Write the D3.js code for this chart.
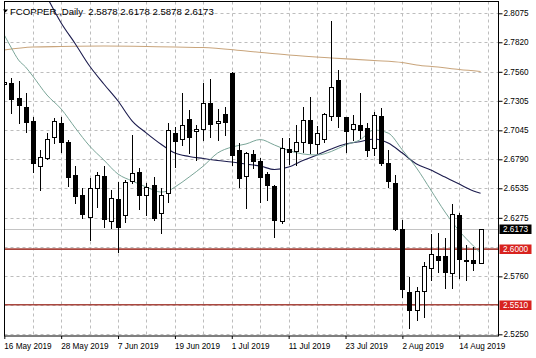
<!DOCTYPE html>
<html>
<head>
<meta charset="utf-8">
<script src="https://cdn.jsdelivr.net/npm/d3@7"></script>
<style>
  body { margin: 0; background: #fff; }
  svg { display: block; font-family: "Liberation Sans", Arial, sans-serif; }
</style>
</head>
<body>
<div id="chart"></div>
<script>
// daily bars, 16 May 2019 .. 19 Aug 2019
var opens  = [2.7453, 2.7459, 2.7327, 2.7253, 2.7127, 2.6731, 2.6804, 2.6984, 2.7112, 2.6945,
              2.6652, 2.6476, 2.6285, 2.6540, 2.6643, 2.6241, 2.6438, 2.6300, 2.6593, 2.6676,
              2.6476, 2.6564, 2.6315, 2.6491, 2.7019, 2.6966, 2.7145, 2.7039, 2.7052, 2.7288,
              2.7112, 2.7189, 2.7547, 2.6872, 2.6637, 2.6837, 2.6775, 2.6658, 2.6558, 2.6241,
              2.6881, 2.6863, 2.6945, 2.7136, 2.6925, 2.6969, 2.7171, 2.7488, 2.7160, 2.7054,
              2.7092, 2.7063, 2.6887, 2.7171, 2.6755, 2.6579, 2.6174, 2.5625, 2.5464, 2.5634,
              2.5837, 2.5939, 2.5939, 2.5787, 2.6300, 2.5904, 2.5904, 2.5878];
var highs  = [2.7523, 2.7503, 2.7482, 2.7371, 2.7165, 2.6872, 2.7024, 2.7156, 2.7160, 2.6960,
              2.6731, 2.6535, 2.6623, 2.6681, 2.6731, 2.6520, 2.6593, 2.6608, 2.7004, 2.6711,
              2.6584, 2.6637, 2.6535, 2.7107, 2.7077, 2.7371, 2.7224, 2.7092, 2.7462, 2.7494,
              2.7233, 2.7253, 2.7558, 2.6936, 2.6857, 2.6872, 2.6799, 2.6681, 2.6564, 2.6975,
              2.6975, 2.7092, 2.7253, 2.7341, 2.7083, 2.7200, 2.8010, 2.7576, 2.7160, 2.7180,
              2.7371, 2.7107, 2.7209, 2.7239, 2.6872, 2.6652, 2.6256, 2.5754, 2.5669, 2.5886,
              2.6132, 2.6139, 2.6097, 2.6397, 2.6315, 2.6036, 2.6021, 2.6178];
var lows   = [2.7356, 2.7195, 2.7107, 2.7033, 2.6681, 2.6520, 2.6793, 2.6936, 2.6857, 2.6555,
              2.6408, 2.6271, 2.6080, 2.6373, 2.6197, 2.6183, 2.5977, 2.6241, 2.6579, 2.6353,
              2.6300, 2.6256, 2.6139, 2.6417, 2.6725, 2.6916, 2.6843, 2.6784, 2.6960, 2.6986,
              2.6960, 2.7004, 2.6740, 2.6546, 2.6359, 2.6713, 2.6417, 2.6432, 2.6109, 2.6227,
              2.6748, 2.6740, 2.6854, 2.6843, 2.6843, 2.6945, 2.7136, 2.7077, 2.6857, 2.6960,
              2.6975, 2.6819, 2.6828, 2.6740, 2.6549, 2.6168, 2.5578, 2.5303, 2.5375, 2.5405,
              2.5727, 2.5801, 2.5655, 2.5655, 2.5745, 2.5728, 2.5820, 2.5878];
var closes = [2.7470, 2.7318, 2.7268, 2.7121, 2.6755, 2.6813, 2.6969, 2.7127, 2.6945, 2.6637,
              2.6467, 2.6309, 2.6540, 2.6652, 2.6262, 2.6447, 2.6192, 2.6593, 2.6667, 2.6470,
              2.6549, 2.6276, 2.6476, 2.7048, 2.6945, 2.7092, 2.6984, 2.7057, 2.7283, 2.7107,
              2.7130, 2.7121, 2.6828, 2.6623, 2.6843, 2.6778, 2.6637, 2.6558, 2.6256, 2.6887,
              2.6857, 2.6945, 2.7136, 2.6931, 2.7019, 2.7189, 2.7422, 2.7169, 2.7033, 2.7098,
              2.7048, 2.6872, 2.7180, 2.6755, 2.6593, 2.6174, 2.5648, 2.5464, 2.5634, 2.5855,
              2.5956, 2.5900, 2.5802, 2.6309, 2.5910, 2.5898, 2.5880, 2.6173];

// moving averages (bar index -> value)
var fastIdx = [0, 1, 2, 3, 4, 6, 8, 10, 12, 14, 16, 18, 20, 22, 23, 24, 26, 28, 30, 32, 34, 36, 38,
               40, 42, 44, 46, 48, 50, 52, 54, 56, 58, 60, 62, 64, 66, 67];
var fastVal = [2.7884, 2.7770, 2.7664, 2.7602, 2.7523, 2.7356, 2.7233, 2.7065, 2.6907, 2.6784,
               2.6660, 2.6599, 2.6546, 2.6502, 2.6511, 2.6546, 2.6634, 2.6731, 2.6845, 2.6898,
               2.6925, 2.6964, 2.6916, 2.6867, 2.6837, 2.6828, 2.6859, 2.6916, 2.6960, 2.7048,
               2.7021, 2.6872, 2.6713, 2.6520, 2.6326, 2.6159, 2.6027, 2.5965];
var midIdx = [6, 8, 10, 12, 14, 16, 18, 20, 22, 24, 26, 28, 30, 32, 34, 36, 38, 40, 42, 44, 46,
              48, 50, 52, 54, 56, 58, 60, 62, 64, 66, 67];
var midVal = [2.8219, 2.7990, 2.7805, 2.7611, 2.7453, 2.7303, 2.7127, 2.7021, 2.6925, 2.6845,
              2.6815, 2.6797, 2.6779, 2.6766, 2.6748, 2.6731, 2.6700, 2.6722, 2.6779, 2.6828,
              2.6881, 2.6925, 2.6945, 2.6969, 2.6933, 2.6845, 2.6748, 2.6696, 2.6634, 2.6572,
              2.6511, 2.6491];
var slowIdx = [0, 4, 8, 14, 20, 24, 28, 34, 40, 46, 52, 56, 58, 61, 64, 67];
var slowVal = [2.7752, 2.7778, 2.7783, 2.7787, 2.7783, 2.7778, 2.7774, 2.7743, 2.7708, 2.7682,
               2.7660, 2.7642, 2.7620, 2.7602, 2.7580, 2.7563];

// grid levels; 2.6020 and 2.5505 sit under the level boxes, so no label there
var priceGrid = [2.8075, 2.7820, 2.7560, 2.7305, 2.7045, 2.6790, 2.6535, 2.6275, 2.6020,
                 2.5760, 2.5505, 2.5250];
var priceLabels = [2.8075, 2.7820, 2.7560, 2.7305, 2.7045, 2.6790, 2.6535, 2.6275,
                   2.5760, 2.5250];
var dateTickIdx = [0, 8, 16, 24, 32, 40, 48, 56, 64];
var dateLabels = ["16 May 2019", "28 May 2019", "7 Jun 2019", "19 Jun 2019", "1 Jul 2019",
                  "11 Jul 2019", "23 Jul 2019", "2 Aug 2019", "14 Aug 2019"];
var levelLines = [2.6000, 2.5510];
var lastPrice = 2.6173;
var title = "FCOPPER.,Daily  2.5878 2.6178 2.5878 2.6173";

var svgWidth = 536;
var svgHeight = 358;
var plot = { left: 4.5, top: 1.5, right: 498.5, bottom: 336 };

var svg = d3.select("#chart")
  .append("svg")
  .attr("width", svgWidth)
  .attr("height", svgHeight);

var x = d3.scaleLinear().domain([0, 69.45]).range([4.3, 498]);
var y = d3.scaleLinear().domain([2.5250, 2.8075]).range([334.3, 13.3]);

svg.append("clipPath").attr("id", "clip")
  .append("rect")
  .attr("x", plot.left).attr("y", plot.top)
  .attr("width", plot.right - plot.left).attr("height", plot.bottom - plot.top);

// grid
var grid = svg.append("g").attr("clip-path", "url(#clip)")
  .attr("stroke", "#bdbdbd").attr("stroke-dasharray", "3,3");
grid.selectAll(".hg").data(priceGrid).enter().append("line")
  .attr("x1", plot.left).attr("x2", plot.right)
  .attr("y1", d => Math.round(y(d)) + 0.5).attr("y2", d => Math.round(y(d)) + 0.5);
grid.selectAll(".vg").data(d3.range(4, 69, 4)).enter().append("line")
  .attr("y1", plot.top).attr("y2", plot.bottom)
  .attr("x1", d => Math.round(x(d)) + 0.5).attr("x2", d => Math.round(x(d)) + 0.5);

var chartGroup = svg.append("g").attr("clip-path", "url(#clip)");

// bid line and levels
chartGroup.append("line")
  .attr("x1", plot.left).attr("x2", plot.right)
  .attr("y1", Math.round(y(lastPrice)) + 0.5).attr("y2", Math.round(y(lastPrice)) + 0.5)
  .attr("stroke", "#c4c4c4");
chartGroup.selectAll(".lvl").data(levelLines).enter().append("line")
  .attr("x1", plot.left).attr("x2", plot.right)
  .attr("y1", d => y(d)).attr("y2", d => y(d))
  .attr("stroke", "#a9473f").attr("stroke-width", 1.6);

// moving averages
var maLine = d3.line()
  .x(d => x(d[0]))
  .y(d => y(d[1]))
  .curve(d3.curveMonotoneX);
chartGroup.append("path")
  .attr("d", maLine(d3.zip(slowIdx, slowVal)))
  .attr("fill", "none").attr("stroke", "#c9a57c").attr("stroke-width", 1.1);
chartGroup.append("path")
  .attr("d", maLine(d3.zip(midIdx, midVal)))
  .attr("fill", "none").attr("stroke", "#1c1c4e").attr("stroke-width", 1.1);
chartGroup.append("path")
  .attr("d", maLine(d3.zip(fastIdx, fastVal)))
  .attr("fill", "none").attr("stroke", "#7aa598").attr("stroke-width", 1);

// candles
var bars = d3.range(opens.length);
var candle = chartGroup.selectAll(".candle").data(bars).enter().append("g");
candle.append("line")
  .attr("x1", i => Math.round(x(i)) + 0.5).attr("x2", i => Math.round(x(i)) + 0.5)
  .attr("y1", i => Math.round(y(highs[i]))).attr("y2", i => Math.round(y(lows[i])) + 1)
  .attr("stroke", "#000");
candle.append("rect")
  .attr("x", i => Math.round(x(i)) - 1.5)
  .attr("y", i => Math.round(y(Math.max(opens[i], closes[i]))) + 0.5)
  .attr("width", 4)
  .attr("height", i => Math.max(0.5, Math.round(Math.abs(y(opens[i]) - y(closes[i])))))
  .attr("fill", i => closes[i] >= opens[i] ? "#fff" : "#000")
  .attr("stroke", "#000");

// frame
svg.append("rect")
  .attr("x", plot.left).attr("y", plot.top)
  .attr("width", plot.right - plot.left).attr("height", plot.bottom - plot.top)
  .attr("fill", "none").attr("stroke", "#000");

// axes
var rightAxis = d3.axisRight(y).tickValues(priceLabels)
  .tickFormat(d3.format(".4f")).tickSize(4).tickPadding(1);
var ra = svg.append("g").attr("transform", `translate(${plot.right}, 0)`).call(rightAxis);
ra.select(".domain").remove();
ra.selectAll("text").attr("font-size", "8.2px").attr("fill", "#000");

var bottomAxis = d3.axisBottom(x).tickValues(dateTickIdx)
  .tickFormat((d, k) => dateLabels[k]).tickSize(3).tickPadding(4);
var ba = svg.append("g").attr("transform", `translate(0, ${plot.bottom})`).call(bottomAxis);
ba.select(".domain").remove();
ba.selectAll("text").attr("text-anchor", "start").attr("x", -0.5)
  .attr("font-size", "8.2px").attr("fill", "#000");

// price boxes on the scale
var boxes = [
  { v: lastPrice, bg: "#000" },
  { v: levelLines[0], bg: "#d8231f" },
  { v: levelLines[1], bg: "#d8231f" }
];
var bx = svg.selectAll(".box").data(boxes).enter().append("g")
  .attr("transform", d => `translate(${plot.right + 1}, ${Math.round(y(d.v))})`);
bx.append("rect").attr("x", 0).attr("y", -4.5).attr("width", 32).attr("height", 9.5)
  .attr("fill", d => d.bg);
bx.append("text").attr("x", 3.5).attr("dy", "0.34em")
  .attr("font-size", "8.2px").attr("fill", "#fff")
  .text(d => d3.format(".4f")(d.v));

// title
svg.append("path").attr("d", "M3,9.5 L8,9.5 L5.5,12.5 Z").attr("fill", "#000");
svg.append("text").attr("x", 10).attr("y", 14.5)
  .attr("font-size", "9.6px").attr("fill", "#000")
  .attr("xml:space", "preserve").style("white-space", "pre")
  .text(title);
</script>
</body>
</html>
